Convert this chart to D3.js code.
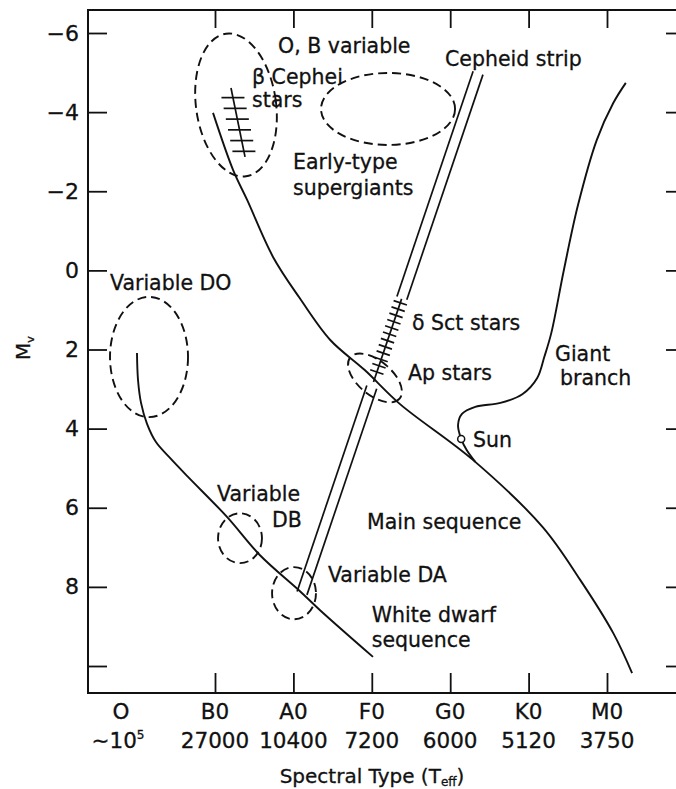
<!DOCTYPE html>
<html>
<head>
<meta charset="utf-8">
<script src="https://cdn.jsdelivr.net/npm/d3@7"></script>
<style>
  html, body { margin: 0; padding: 0; background: #fff; }
  svg { display: block; font-family: "DejaVu Sans", sans-serif; }
  svg text { stroke: #111; stroke-width: 0.3px; }
</style>
</head>
<body>
<svg id="chart" width="676" height="789"></svg>
<script>
// Spectral classes along the horizontal axis: index 0 = O, 1 = B0 ... 6 = M0
const classes = ["O", "B0", "A0", "F0", "G0", "K0", "M0"];
const classTemps = ["10", "27000", "10400", "7200", "6000", "5120", "3750"];
const classTicks = [1, 2, 3, 4, 5, 6];

// Absolute visual magnitude ticks
const magTicks = [-6, -4, -2, 0, 2, 4, 6, 8, 10];
const magLabels = ["\u22126", "\u22124", "\u22122", "0", "2", "4", "6", "8", ""];

// Tracks as [spectral index, M_v]
const mainSequence = [
  [0.979, -3.98], [1.23, -2.54], [1.41, -1.78], [1.74, -0.34], [2.08, 0.70],
  [2.47, 1.76], [2.91, 2.52], [3.36, 3.38], [4.29, 4.79], [5.18, 6.49],
  [5.66, 7.83], [6.08, 9.17], [6.32, 10.18]
];
const giantBranch = [
  [4.32, 4.84], [4.21, 4.54], [4.14, 4.26], [4.10, 3.91], [4.15, 3.63],
  [4.32, 3.45], [4.64, 3.35], [4.92, 3.13], [5.11, 2.72], [5.20, 2.19],
  [5.29, 1.58], [5.45, -0.01], [5.63, -1.65], [5.87, -3.30], [6.08, -4.23],
  [6.24, -4.74]
];
const whiteDwarfSequence = [
  [0.170, 2.09], [0.181, 2.77], [0.213, 3.35], [0.277, 3.88], [0.372, 4.34],
  [0.521, 4.74], [0.713, 5.22], [1.153, 6.23], [1.574, 7.20], [2.084, 8.11],
  [2.34, 8.59], [3.015, 9.77]
];
const sun = [4.14, 4.26];

// Cepheid instability strip centre line (top end, end on the white dwarf sequence)
const cepheidStrip = [[4.355, -4.99], [2.11, 8.16]];
const stripUpper = [-4.99, 0.70];     // magnitude span of the upper double line
const deltaScuti = [0.82, 2.57];      // magnitude span of the hatched delta Sct section
const stripLower = [2.95, 8.16];      // magnitude span of the lower double line

// beta Cephei hatched segment
const betaCephei = [[1.204, -4.61], [1.383, -2.87]];

// Variable-star regions: centre (class index, M_v) and half extents (classes, mag)
const regions = [
  { id: "obVariable",  ci: 1.268, cm: -4.18, di: 0.51,  dm: 1.82 },
  { id: "supergiants", ci: 3.207, cm: -4.08, di: 0.855, dm: 0.91 },
  { id: "variableDO",  ci: 0.298, cm: 2.19,  di: 0.415, dm: 1.52 },
  { id: "apStars",     ci: 3.04,  cm: 2.72,  di: 0.41,  dm: 0.43 },
  { id: "variableDB",  ci: 1.319, cm: 6.77,  di: 0.28,  dm: 0.63 },
  { id: "variableDA",  ci: 2.008, cm: 8.16,  di: 0.28,  dm: 0.66 }
];

// Annotation anchors (left edge, vertical centre) in class index / magnitude
const annotations = [
  { text: "O, B variable", ci: 1.804, cm: -5.67 },
  { text: "\u03B2 Cephei",  ci: 1.472, cm: -4.89 },
  { text: "stars",          ci: 1.472, cm: -4.31 },
  { text: "Early-type",     ci: 1.995, cm: -2.74 },
  { text: "supergiants",    ci: 1.995, cm: -2.08 },
  { text: "Cepheid strip",  ci: 3.934, cm: -5.34 },
  { text: "Variable DO",    ci: -0.117, cm: 0.32 },
  { text: "\u03B4 Sct stars", ci: 3.513, cm: 1.33 },
  { text: "Ap stars",       ci: 3.462, cm: 2.59 },
  { text: "Giant",          ci: 5.337, cm: 2.11 },
  { text: "branch",         ci: 5.40,  cm: 2.72 },
  { text: "Sun",            ci: 4.29,  cm: 4.29 },
  { text: "Main sequence",  ci: 2.94,  cm: 6.36 },
  { text: "Variable",       ci: 1.026, cm: 5.65 },
  { text: "DB",             ci: 1.727, cm: 6.31 },
  { text: "Variable DA",    ci: 2.44,  cm: 7.70 },
  { text: "White dwarf",    ci: 3.0,   cm: 8.71 },
  { text: "sequence",       ci: 3.0,   cm: 9.34 }
];

// ---------------------------------------------------------------------------
const svg = d3.select("#chart");
const frame = { left: 88, top: 10, right: 685, bottom: 693 };
const ink = "#111";

const x = d3.scaleLinear().domain([0, 1, 6]).range([121, 215, 607]);
const y = d3.scaleLinear().domain([-6, 10]).range([33, 666]);

// frame
svg.append("path")
  .attr("d", `M${frame.right},${frame.top}H${frame.left}V${frame.bottom}H${frame.right}V${frame.top}`)
  .attr("fill", "none").attr("stroke", ink).attr("stroke-width", 2);

function styleAxis(g, size) {
  g.select(".domain").remove();
  g.attr("font-family", "DejaVu Sans, sans-serif").attr("font-size", size);
  g.selectAll("line").attr("stroke", ink).attr("stroke-width", 1.8);
  g.selectAll("text").attr("fill", ink);
}

svg.append("g").attr("transform", `translate(${frame.left},0)`)
  .call(d3.axisLeft(y).tickValues(magTicks).tickSize(-19).tickPadding(9)
    .tickFormat((d, i) => magLabels[i]))
  .call(g => styleAxis(g, 22));

svg.append("g").attr("transform", `translate(${frame.right},0)`)
  .call(d3.axisRight(y).tickValues(magTicks).tickSize(-19).tickFormat(""))
  .call(g => styleAxis(g, 22));

svg.append("g").attr("transform", `translate(0,${frame.top})`)
  .call(d3.axisTop(x).tickValues(classTicks).tickSize(-18).tickFormat(""))
  .call(g => styleAxis(g, 22));

svg.append("g").attr("transform", `translate(0,${frame.bottom})`)
  .call(d3.axisBottom(x).tickValues(classTicks).tickSize(-20).tickFormat(""))
  .call(g => styleAxis(g, 22));

// class names and effective temperatures
const xl = svg.append("g").attr("font-size", 21.5).attr("fill", ink).attr("text-anchor", "middle");
classes.forEach((c, i) => {
  xl.append("text").attr("x", x(i)).attr("y", 719).text(c);
  const t = xl.append("text").attr("x", x(i) - (i === 0 ? 3 : 0)).attr("y", 748);
  if (i === 0) {
    t.append("tspan").text("\u223C" + classTemps[i]);
    t.append("tspan").attr("font-size", 12).attr("dy", -9).text("5");
  } else {
    t.text(classTemps[i]);
  }
});

// axis titles
const xt = svg.append("text").attr("x", 372).attr("y", 783).attr("text-anchor", "middle")
  .attr("font-size", 20).attr("fill", ink);
xt.append("tspan").text("Spectral Type (T");
xt.append("tspan").attr("font-size", 12).attr("dy", 3).text("eff");
xt.append("tspan").attr("dy", -3).text(")");

const yt = svg.append("text").attr("transform", "translate(30,348) rotate(-90)")
  .attr("text-anchor", "middle").attr("font-size", 20).attr("fill", ink);
yt.append("tspan").text("M");
yt.append("tspan").attr("font-size", 11).attr("dy", 4).text("v");

// tracks
const line = d3.line().x(d => x(d[0])).y(d => y(d[1])).curve(d3.curveCatmullRom.alpha(0.5));
[mainSequence, giantBranch, whiteDwarfSequence].forEach(track => {
  svg.append("path").attr("d", line(track))
    .attr("fill", "none").attr("stroke", ink).attr("stroke-width", 1.9);
});

// Cepheid strip geometry in pixels
const s0 = [x(cepheidStrip[0][0]), y(cepheidStrip[0][1])];
const s1 = [x(cepheidStrip[1][0]), y(cepheidStrip[1][1])];
const len = Math.hypot(s1[0] - s0[0], s1[1] - s0[1]);
const ux = (s1[0] - s0[0]) / len, uy = (s1[1] - s0[1]) / len;
const nx = -uy, ny = ux;
function stripPoint(m, off) {
  const t = (y(m) - s0[1]) / (s1[1] - s0[1]);
  return [s0[0] + t * (s1[0] - s0[0]) + nx * off, s0[1] + t * (s1[1] - s0[1]) + ny * off];
}
const halfGap = 5.2;
[stripUpper, stripLower].forEach(span => {
  [-halfGap, halfGap].forEach(off => {
    const a = stripPoint(span[0], off), b = stripPoint(span[1], off);
    svg.append("line").attr("x1", a[0]).attr("y1", a[1]).attr("x2", b[0]).attr("y2", b[1])
      .attr("stroke", ink).attr("stroke-width", 1.7);
  });
});
// hatched delta Sct section
{
  const a = stripPoint(deltaScuti[0] - 0.1, 0), b = stripPoint(deltaScuti[1] + 0.25, 0);
  svg.append("line").attr("x1", a[0]).attr("y1", a[1]).attr("x2", b[0]).attr("y2", b[1])
    .attr("stroke", ink).attr("stroke-width", 1.7);
  const n = 12;
  for (let k = 0; k < n; k++) {
    const m = deltaScuti[0] + (deltaScuti[1] - deltaScuti[0]) * k / (n - 1);
    const p = stripPoint(m, 0);
    svg.append("line")
      .attr("x1", p[0] - nx * 7).attr("y1", p[1] - ny * 7)
      .attr("x2", p[0] + nx * 7).attr("y2", p[1] + ny * 7)
      .attr("stroke", ink).attr("stroke-width", 1.7);
  }
}

// beta Cephei hatched segment
{
  const a = [x(betaCephei[0][0]), y(betaCephei[0][1])];
  const b = [x(betaCephei[1][0]), y(betaCephei[1][1])];
  svg.append("line").attr("x1", a[0]).attr("y1", a[1]).attr("x2", b[0]).attr("y2", b[1])
    .attr("stroke", ink).attr("stroke-width", 1.7);
  const n = 6;
  for (let k = 0; k < n; k++) {
    const t = 0.14 + 0.78 * k / (n - 1);
    const px = a[0] + t * (b[0] - a[0]), py = a[1] + t * (b[1] - a[1]);
    svg.append("line").attr("x1", px - 11.5).attr("y1", py).attr("x2", px + 11.5).attr("y2", py)
      .attr("stroke", ink).attr("stroke-width", 1.7);
  }
}

// dashed regions
const tilt = { obVariable: -8, apStars: 40 };
regions.forEach(r => {
  const cx = x(r.ci), cy = y(r.cm);
  const rx = Math.abs(x(r.ci + r.di) - cx);
  const ry = Math.abs(y(r.cm + r.dm) - cy);
  svg.append("ellipse").attr("cx", cx).attr("cy", cy).attr("rx", rx).attr("ry", ry)
    .attr("transform", `rotate(${tilt[r.id] || 0},${cx},${cy})`)
    .attr("fill", "none").attr("stroke", ink).attr("stroke-width", 1.9)
    .attr("stroke-dasharray", "9,5");
});

// the Sun
svg.append("circle").attr("cx", x(sun[0])).attr("cy", y(sun[1])).attr("r", 3.5)
  .attr("fill", "#fff").attr("stroke", ink).attr("stroke-width", 1.5);

// annotations
svg.append("g").attr("font-size", 20.5).attr("fill", ink)
  .selectAll("text").data(annotations).join("text")
  .attr("x", d => x(d.ci)).attr("y", d => y(d.cm)).attr("dy", "0.36em")
  .text(d => d.text);
</script>
</body>
</html>
